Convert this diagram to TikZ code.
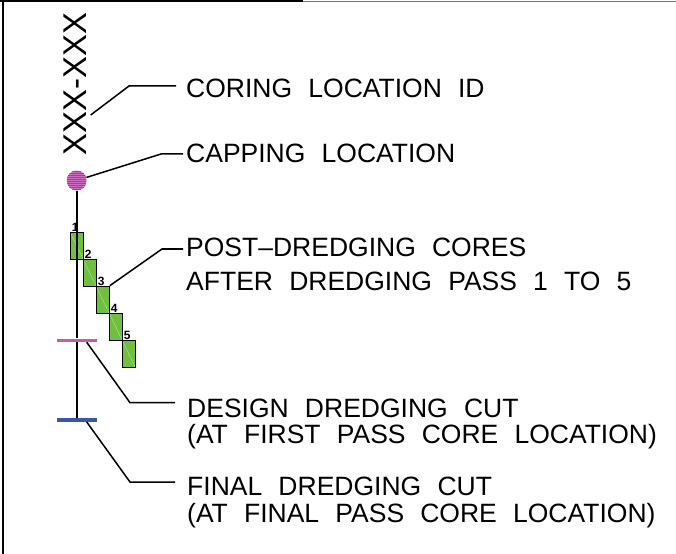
\documentclass[tikz,border=0pt]{standalone}
\usepackage{fontspec}
\setmainfont{Liberation Sans}[WordSpace=2.2]
\usetikzlibrary{positioning}
\definecolor{coregreen}{RGB}{112,191,65}
\definecolor{capmag}{RGB}{206,110,190}
\definecolor{capdark}{RGB}{170,60,150}
\definecolor{cutmag}{RGB}{200,90,170}
\definecolor{cutblue}{RGB}{60,85,170}

\begin{document}
\begin{tikzpicture}[x=1bp,y=-1bp,
    lbl/.style={anchor=base west,inner sep=0pt,font=\fontsize{26.6}{30}\selectfont},
    leader/.style={line width=1.5bp},
    corebox/.style={draw,fill=coregreen,line width=1.3bp,minimum width=13bp,
      minimum height=27bp,inner sep=0pt,
      path picture={\draw[white,opacity=.5,line width=.4bp]
        (path picture bounding box.north west) -- (path picture bounding box.south east);}},
    num/.style={inner sep=0pt,font=\bfseries\fontsize{12}{12}\selectfont},
    cutbar/.style={minimum width=40bp,minimum height=3.5bp,inner sep=0pt}]
  \useasboundingbox (0,0) rectangle (676,554);
  % frame
  \draw[line width=2bp] (3,0) -- (3,554);
  \draw[line width=1.5bp] (0,1) -- (303,1);
  \draw[line width=1.5bp,black!55] (303,1.5) -- (676,1.5);

  % label column
  \node[rotate=90,inner sep=0pt,font=\fontsize{33}{33}\selectfont] (idtag) at (75.3,84) {XXX-XXX};
  \foreach \i in {1,...,5} {
    \node[corebox] (c\i) at ({76.7+13*(\i-1)},{245.8+27*(\i-1)}) {};
    \node[num,above right=0pt and 2bp of c\i.north west] (n\i) {\i};
  }
  \node[cutbar,fill=cutmag] (dcut) at (76.7,340.3) {};
  \node[cutbar,fill=cutblue] (fcut) at (76.7,420) {};
  \node[circle,fill=capmag,minimum size=20bp,inner sep=0pt,
    path picture={\foreach \k in {-9,-7,...,9}
      \draw[capdark,line width=.5bp] ([yshift=\k bp]path picture bounding box.west)
        -- ([yshift=\k bp]path picture bounding box.east);}] (cap) at (76.7,180.5) {};
  \draw[line width=1.6bp] (cap) -- (dcut.north);
  \draw[line width=1.6bp] (dcut.south) -- (fcut.north);

  % texts
  \node[lbl] (tid) at (186,97.7) {CORING LOCATION ID};
  \node[lbl] (tcap) at (186,163) {CAPPING LOCATION};
  \node[lbl] (tcore) at (186,257) {POST--DREDGING CORES};
  \node[lbl] (tcore2) at (186,290) {AFTER DREDGING PASS 1 TO 5};
  \node[lbl] (tdesign) at (187,417) {DESIGN DREDGING CUT};
  \node[lbl] (tdesign2) at (187,443) {(AT FIRST PASS CORE LOCATION)};
  \node[lbl] (tfinal) at (187,495) {FINAL DREDGING CUT};
  \node[lbl] (tfinal2) at (187,522) {(AT FINAL PASS CORE LOCATION)};

  % leaders
  \coordinate (idpt) at (90.7,115);
  \coordinate (idbend) at (129,86);
  \coordinate (idend) at (176,86);
  \coordinate (capbend) at (161.7,153.8);
  \coordinate (capend) at (183,153.8);
  \coordinate (corebend) at (162,249);
  \coordinate (coreend) at (183,249);
  \coordinate (dbend) at (130,402.7);
  \coordinate (dend) at (175,402.7);
  \coordinate (fbend) at (130,482);
  \coordinate (fend) at (175,482);
  \draw[leader] (idpt) -- (idbend) -- (idend);
  \draw[leader] (cap) -- (capbend) -- (capend);
  \draw[leader] (c3.north east) -- (corebend) -- (coreend);
  \draw[leader] ([xshift=10bp]dcut.south) -- (dbend) -- (dend);
  \draw[leader] ([xshift=10bp]fcut.south) -- (fbend) -- (fend);
\end{tikzpicture}
\end{document}
